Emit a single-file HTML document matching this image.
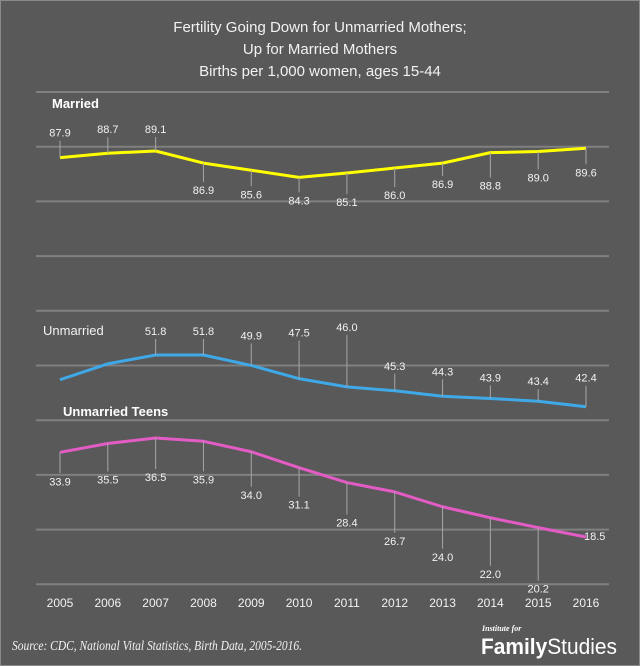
<!DOCTYPE html>
<html><head><meta charset="utf-8"><style>
html,body{margin:0;padding:0;background:#595959;}
svg{display:block;font-family:"Liberation Sans",sans-serif;}
</style></head><body>
<svg id="chart" width="640" height="666" viewBox="0 0 640 666">
<rect x="0.5" y="0.5" width="639" height="665" fill="#595959" stroke="#8a8a8a"/>
<g fill="#f2f2f2" font-size="15" text-anchor="middle">
<text x="320" y="32">Fertility Going Down for Unmarried Mothers;</text>
<text x="320" y="54">Up for Married Mothers</text>
<text x="320" y="76">Births per 1,000 women, ages 15-44</text>
</g>
<g id="grid"></g>
<g id="marks"></g>
<text x="52" y="108" fill="#fff" font-size="13" font-weight="bold">Married</text>
<text x="43" y="335" fill="#f2f2f2" font-size="13">Unmarried</text>
<text x="63" y="416" fill="#fff" font-size="13" font-weight="bold">Unmarried Teens</text>
<g id="xaxis"></g>
<text x="12" y="650" fill="#f2f2f2" font-size="14" font-style="italic" font-family="Liberation Serif,serif" textLength="290" lengthAdjust="spacingAndGlyphs">Source: CDC, National Vital Statistics, Birth Data, 2005-2016.</text>
<text x="482" y="631" fill="#fff" font-size="8" font-style="italic" font-weight="bold" font-family="Liberation Serif,serif">Institute for</text>
<text x="481" y="654" fill="#fff" font-size="22" textLength="136" lengthAdjust="spacingAndGlyphs"><tspan font-weight="bold">Family</tspan><tspan>Studies</tspan></text>
</svg>
<script>
const years = [2005,2006,2007,2008,2009,2010,2011,2012,2013,2014,2015,2016];
const married = [87.9,88.7,89.1,86.9,85.6,84.3,85.1,86.0,86.9,88.8,89.0,89.6];
const unmarried = [47.3,50.2,51.8,51.8,49.9,47.5,46.0,45.3,44.3,43.9,43.4,42.4];
const teens = [33.9,35.5,36.5,35.9,34.0,31.1,28.4,26.7,24.0,22.0,20.2,18.5];
const marriedLabelOff = [-21,-20,-18,31,28,27,33,31,25,37,30,28];
const unmarriedLabelOff = [0,0,-20,-20,-26,-42,-56,-21,-21,-17,-16,-25];
const teensLabelOff = [33,40,43,42,47,41,44,53,54,60,65,3];
const NS='http://www.w3.org/2000/svg';
const svg=document.getElementById('chart');
const grid=document.getElementById('grid'), marks=document.getElementById('marks'), xaxis=document.getElementById('xaxis');
function x(i){return 60+i*(586-60)/(years.length-1);}
const K=5.5;
function yMarried(v){return 151+(89.1-v)*K;}
function yUnmarried(v){return 355+(51.8-v)*K;}
function yTeens(v){return 438+(36.5-v)*K;}
function mk(t,a,p){const e=document.createElementNS(NS,t);for(const k in a)e.setAttribute(k,a[k]);(p||marks).appendChild(e);return e;}
for(let g=0;g<10;g++){
  const yy=92+g*54.7;
  const l=mk('line',{x1:36,x2:609,y1:yy,y2:yy,stroke:'#808080','stroke-width':2},grid);
  
  
}
years.forEach((yr,i)=>{
  const t=mk('text',{x:x(i),y:607,fill:'#f2f2f2','font-size':12,'text-anchor':'middle'},xaxis);
  t.textContent=yr;
  
  
});
function series(vals,yf,offs,color,name,skip){
  const pts=vals.map((v,i)=>x(i)+','+yf(v)).join(' ');
  const pl=mk('polyline',{points:pts,fill:'none',stroke:color,'stroke-width':3,'stroke-linejoin':'round'});
  
  
  vals.forEach((v,i)=>{
    if(skip&&skip.includes(i))return;
    const px=x(i),py=yf(v),o=offs[i];
    const last=(name==='unmarried-teens'&&i===vals.length-1);
    if(!last){
      const ly=o<0?py+o+4:py+o-12;
      mk('line',{x1:px,x2:px,y1:py,y2:ly,stroke:'#a6a6a6','stroke-width':1});
    }
    const t=mk('text',{x:last?px-2:px,y:py+o,fill:'#f2f2f2','font-size':11,'text-anchor':last?'start':'middle'});
    t.textContent=v.toFixed(1);
    
    
  });
}
series(married,yMarried,marriedLabelOff,'#ffff00','married');
series(unmarried,yUnmarried,unmarriedLabelOff,'#3fa9e8','unmarried',[0,1]);
series(teens,yTeens,teensLabelOff,'#e35bc4','unmarried-teens');
</script>
</body></html>
